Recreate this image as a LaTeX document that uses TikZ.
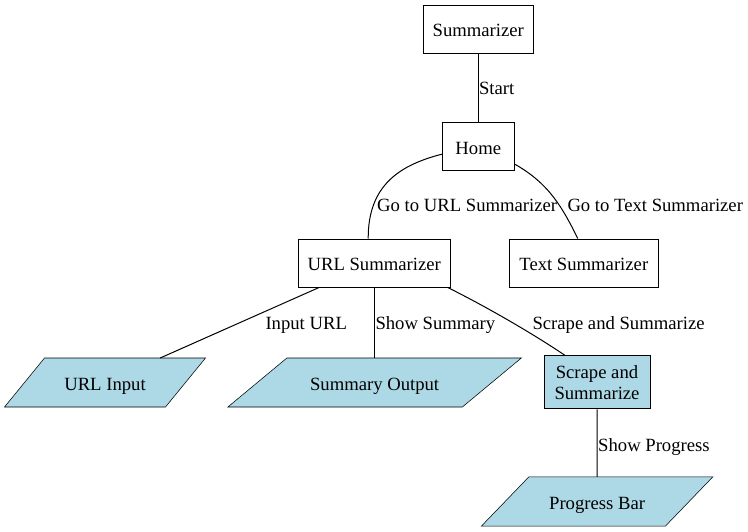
\documentclass[tikz,border=0pt]{standalone}
\usepackage{fontspec}
\setmainfont{Liberation Serif}
\usetikzlibrary{calc,backgrounds}
\definecolor{lb}{HTML}{ADD8E6}
\newcommand\pgram[2]{%
  \filldraw[pg] ($(#1.south west)+(-#2,0)$) -- ($(#1.south east)+(-#2,0)$)
    -- ($(#1.north east)+(#2,0)$) -- ($(#1.north west)+(#2,0)$) -- cycle;}
\begin{document}
\begin{tikzpicture}[x=0.75pt,y=-0.75pt,
  font=\fontsize{14}{15.5}\selectfont,
  line width=0.75pt,
  box/.style={draw, inner sep=0pt, minimum height=36pt, text height=11.7pt, text depth=0pt},
  sbox/.style={draw, inner sep=0pt, minimum height=36pt},
  pnode/.style={inner sep=0pt, minimum height=36pt, text height=11.7pt, text depth=0pt},
  pg/.style={draw, fill=lb, line join=miter},
  lbl/.style={inner sep=0pt, anchor=base west},
  edge/.style={draw}]
\path[use as bounding box] (0,0) rectangle (748,531);

\node[box, minimum width=82.5pt] (sum) at (478.3,29.2) {Summarizer};
\node[box, minimum width=54pt] (home) at (478.3,146.2) {Home};
\node[box, minimum width=114pt] (url) at (374.2,263) {URL Summarizer};
\node[box, minimum width=111.75pt] (txt) at (583.8,263) {Text Summarizer};
\node[sbox, fill=lb, minimum width=79.5pt, minimum height=39.75pt, align=center] (scr) at (597,382.4) {Scrape and\\Summarize};
\node[pnode, minimum width=120pt] (uin) at (105,382.5) {URL Input};
\node[pnode, minimum width=175.1pt] (sout) at (374.6,382.5) {Summary Output};
\node[pnode, minimum width=137.25pt, minimum height=36.3pt] (prog) at (597.1,501.5) {Progress Bar};

\begin{scope}[on background layer]
\fill[white] (0,0) rectangle (748,531);
\pgram{uin}{20}
\pgram{sout}{29.5}
\pgram{prog}{23.8}
\end{scope}

\draw[edge] (sum) -- (home);
\draw[edge] ($(home.west)+(0,8)$) .. controls (400,165) and (368,185) .. ($(url.north)+(-6,0)$);
\draw[edge] ($(home.east)+(0,18)$) .. controls (550,184) and (563,209) .. ($(txt.north)+(-6,0)$);
\draw[edge] (url) -- (uin);
\draw[edge] (url.south) -- (url.south |- sout.north);
\draw[edge] ($(url.south east)+(-3,0)$) .. controls (487,307) and (535,335) .. ($(scr.north)+(-32,0)$);
\draw[edge] (scr) -- (prog);

\node[lbl] (l1) at (478.5,94.5) {Start};
\node[lbl] (l2) at (376.7,211.7) {Go to URL Summarizer};
\node[lbl] (l3) at (567,211.7) {Go to Text Summarizer};
\node[lbl] (l4) at (265,329) {Input URL};
\node[lbl] (l5) at (375,329) {Show Summary};
\node[lbl] (l6) at (532,329) {Scrape and Summarize};
\node[lbl] (l7) at (597.7,451) {Show Progress};
\end{tikzpicture}
\end{document}
